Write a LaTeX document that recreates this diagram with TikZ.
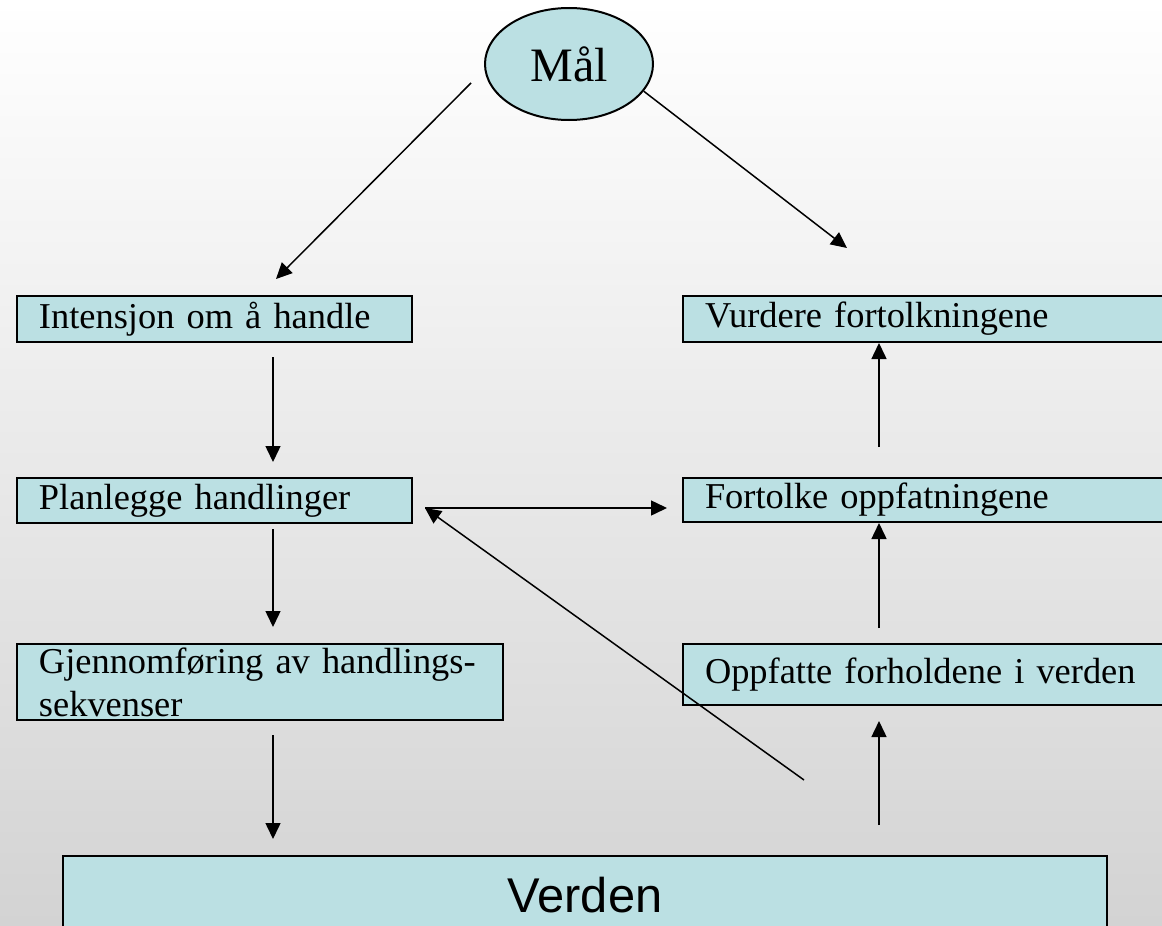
\documentclass[tikz,border=0pt]{standalone}
\usepackage{fontspec}
\setmainfont{Liberation Serif}
\newfontfamily\verdenfont{Liberation Sans}
\usetikzlibrary{shapes.geometric,arrows.meta}
\definecolor{boksfarge}{RGB}{187,224,227}
\definecolor{bunnfarge}{RGB}{211,211,211}
\tikzset{
  boks/.style={draw=black, line width=1pt, fill=boksfarge, anchor=north west,
    inner xsep=11pt, inner ysep=0pt, align=left,
    font=\fontsize{18.2}{21.5}\selectfont},
  pil/.style={-{Triangle[length=8pt,width=7.5pt]}, line width=0.75pt}
}
\begin{document}
\begin{tikzpicture}[x=0.5pt,y=-0.5pt]
% background
\useasboundingbox (0,0) rectangle (1162,926);
\shade[top color=white, bottom color=bunnfarge] (0,0) rectangle (1162,926);

% goal
\node[ellipse, draw=black, line width=1pt, fill=boksfarge, minimum width=84pt,
  minimum height=56pt, inner sep=0pt, font=\fontsize{24}{28}\selectfont] (mal) at (569,64) {Mål};

% left column
\node[boks, text width=175.5pt, minimum height=23pt] (intensjon) at (16,295) {Intensjon om å handle};
\node[boks, text width=175.5pt, minimum height=22.5pt] (planlegge) at (16,477) {Planlegge handlinger};
\node[boks, text width=221pt, minimum height=38pt] (gjennomforing) at (16,643) {\mbox{Gjennomføring av handlings-}\\sekvenser};

% right column
\node[boks, text width=237pt, minimum height=23pt] (vurdere) at (682,295) {Vurdere fortolkningene};
\node[boks, text width=237pt, minimum height=22pt] (fortolke) at (682,477) {Fortolke oppfatningene};
\node[boks, text width=237pt, minimum height=30.5pt] (oppfatte) at (682,643) {Oppfatte forholdene i verden};

% world
\node[draw=black, line width=1pt, fill=boksfarge, anchor=north west, minimum width=522pt,
  minimum height=39pt, inner sep=0pt, font=\verdenfont\fontsize{24.4}{28}\selectfont] (verden) at (62,855) {Verden};

\coordinate (venstre) at (273,0);
\coordinate (hoyre) at (879,0);
\coordinate (malV) at (471,83);
\coordinate (intensjonInn) at (276,279);
\coordinate (vurdereInn) at (847,248);
\coordinate (kryss) at (425,508);
\coordinate (tilbake) at (804,780);

\draw[pil] (malV) -- (intensjonInn);
\draw[pil] (mal.-20) -- (vurdereInn);

\draw[pil, shorten <=7pt, shorten >=7.5pt] (venstre |- intensjon.south) -- (venstre |- planlegge.north);
\draw[pil, shorten <=2.5pt, shorten >=8pt] (venstre |- planlegge.south) -- (venstre |- gjennomforing.north);
\draw[pil, shorten <=7pt, shorten >=8pt] (venstre |- gjennomforing.south) -- (venstre |- verden.north);

\draw[pil, shorten <=15pt, shorten >=7.5pt] (hoyre |- verden.north) -- (hoyre |- oppfatte.south);
\draw[pil, shorten <=7.5pt] (hoyre |- oppfatte.north) -- (hoyre |- fortolke.south);
\draw[pil, shorten <=15pt] (hoyre |- fortolke.north) -- (hoyre |- vurdere.south);

\draw[pil, shorten >=7.5pt] (kryss) -- (kryss -| fortolke.west);
\draw[pil] (tilbake) -- (kryss);
\end{tikzpicture}
\end{document}
